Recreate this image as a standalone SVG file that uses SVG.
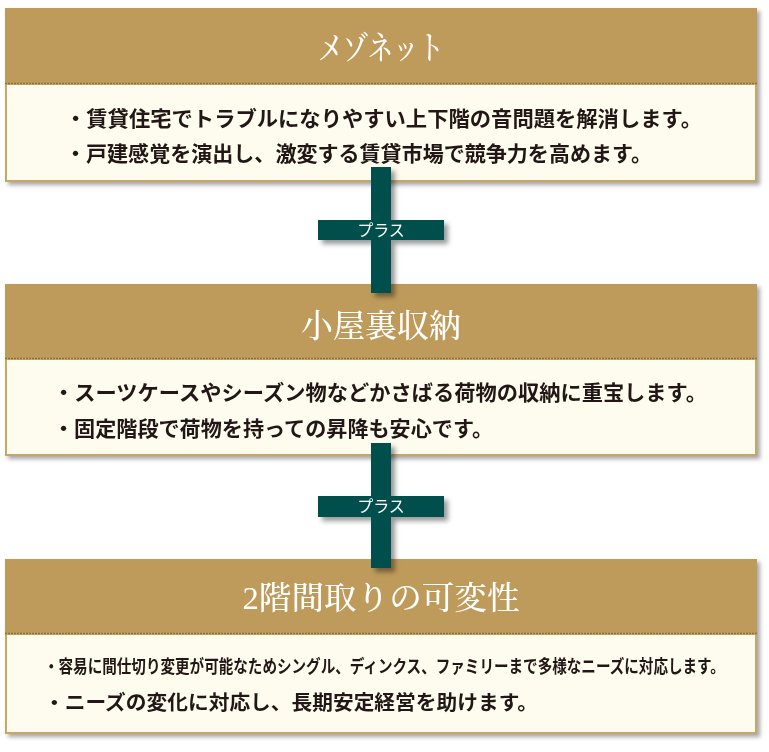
<svg xmlns="http://www.w3.org/2000/svg" width="769" height="752" viewBox="0 0 769 752">
<defs>
<filter id="sh" x="-5%" y="-10%" width="115%" height="130%">
<feDropShadow dx="3" dy="3" stdDeviation="2" flood-color="#000" flood-opacity="0.35"/>
</filter>
<filter id="sh2" x="-20%" y="-20%" width="150%" height="150%">
<feDropShadow dx="4" dy="4" stdDeviation="2.5" flood-color="#000" flood-opacity="0.4"/>
</filter>
<style>
.hdr{fill:#be9b5a}
.hline{stroke:#8d6f3e;stroke-width:1.5;stroke-dasharray:2 1}
.body{fill:#fefcef;stroke:#c8a763;stroke-width:2}
.title{font-family:"Liberation Serif","Noto Serif CJK JP","Noto Sans CJK JP",serif;font-size:32px;fill:#ffffff;text-anchor:middle;font-weight:500}
.txt{font-family:"Noto Sans CJK JP",sans-serif;font-weight:700;fill:#231815}
.bar{fill:#02504e}
.plus{font-family:"Noto Sans CJK JP",sans-serif;font-size:16px;fill:#ffffff;text-anchor:middle}
</style>
</defs>
<rect width="769" height="752" fill="#ffffff"/>

<g id="node-maisonette" filter="url(#sh)">
<rect class="hdr" x="5" y="8" width="752" height="76"/>
<rect class="body" x="6" y="84" width="750" height="97"/>
<line class="hline" x1="5" y1="83.5" x2="757" y2="83.5"/>
<text class="title" x="381" y="59" textLength="126" lengthAdjust="spacingAndGlyphs">メゾネット</text>
<text class="txt" x="65" y="125.5" font-size="21" textLength="637" lengthAdjust="spacingAndGlyphs">・賃貸住宅でトラブルになりやすい上下階の音問題を解消します。</text>
<text class="txt" x="65" y="160.5" font-size="21" textLength="587" lengthAdjust="spacingAndGlyphs">・戸建感覚を演出し、激変する賃貸市場で競争力を高めます。</text>
</g>

<g id="node-attic" filter="url(#sh)">
<rect class="hdr" x="5" y="284" width="752" height="75"/>
<rect class="body" x="6" y="359" width="750" height="96"/>
<line class="hline" x1="5" y1="358.5" x2="757" y2="358.5"/>
<text class="title" x="381" y="337">小屋裏収納</text>
<text class="txt" x="53" y="400" font-size="21" textLength="654" lengthAdjust="spacingAndGlyphs">・スーツケースやシーズン物などかさばる荷物の収納に重宝します。</text>
<text class="txt" x="53" y="436" font-size="21" textLength="440" lengthAdjust="spacingAndGlyphs">・固定階段で荷物を持っての昇降も安心です。</text>
</g>

<g id="node-layout" filter="url(#sh)">
<rect class="hdr" x="5" y="559" width="752" height="75"/>
<rect class="body" x="6" y="634" width="750" height="99"/>
<line class="hline" x1="5" y1="633.5" x2="757" y2="633.5"/>
<text class="title" x="381" y="609" textLength="277" lengthAdjust="spacingAndGlyphs">2階間取りの可変性</text>
<text class="txt" x="0" y="0" font-size="18" transform="translate(44 673) scale(0.81 1)">・容易に間仕切り変更が可能なためシングル、ディンクス、ファミリーまで多様なニーズに対応します。</text>
<text class="txt" x="44" y="710" font-size="20" textLength="494" lengthAdjust="spacingAndGlyphs">・ニーズの変化に対応し、長期安定経営を助けます。</text>
</g>

<g id="connectors">
<g id="plus-1" filter="url(#sh2)">
<rect class="bar" x="371" y="167" width="20" height="126"/>
<rect class="bar" x="318" y="220" width="126" height="20"/>
<text class="plus" x="381" y="235.5">プラス</text>
</g>
<g id="plus-2" filter="url(#sh2)">
<rect class="bar" x="371" y="443" width="20" height="125"/>
<rect class="bar" x="318" y="496" width="126" height="21"/>
<text class="plus" x="381" y="512">プラス</text>
</g>
</g>
</svg>
